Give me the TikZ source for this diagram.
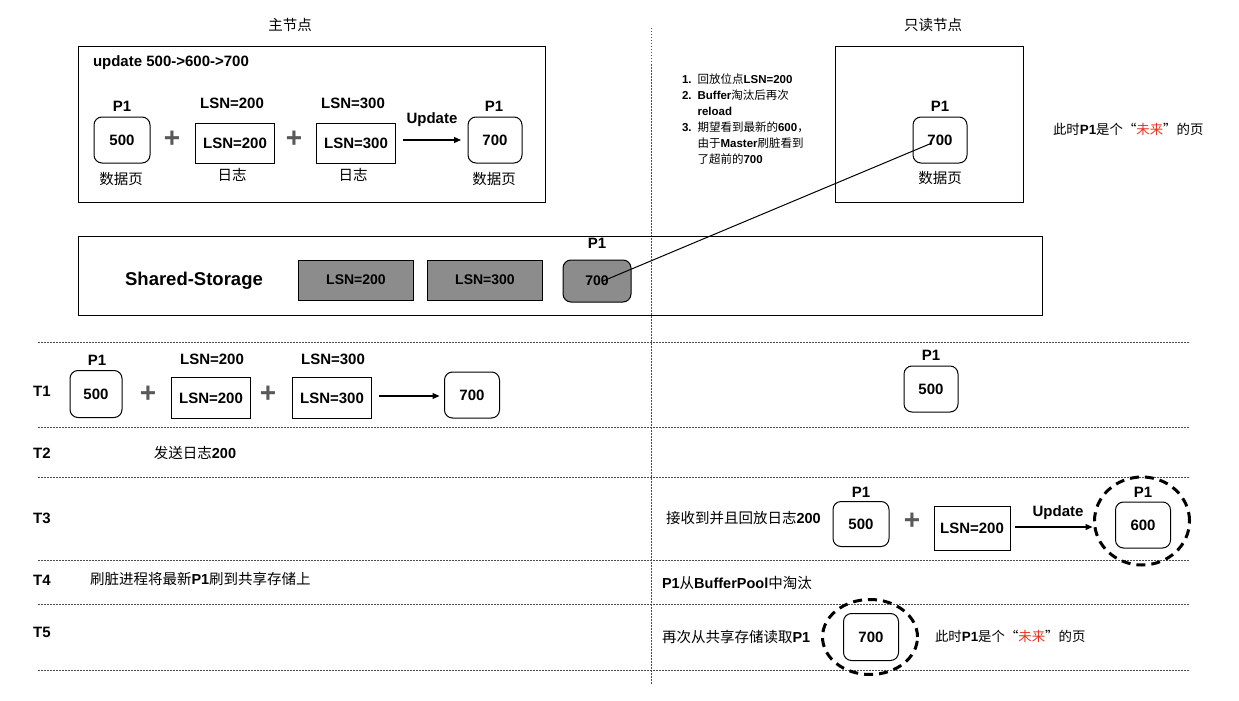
\documentclass[tikz,border=0pt]{standalone}
\usepackage{fontspec}
\setmainfont{Liberation Sans}
\newfontfamily\cnfont{Noto Sans CJK SC}
\newcommand\zh[1]{{\mdseries\cnfont #1}}
\usetikzlibrary{arrows.meta,calc,shapes.geometric}
\definecolor{futred}{HTML}{E8321E}
\definecolor{storegray}{HTML}{8C8C8C}
\begin{document}
\begin{tikzpicture}[x=1pt,y=-1pt,
  every node/.style={inner sep=0pt,outer sep=0pt,font=\fontsize{15}{18}\selectfont\bfseries},
  page/.style={draw,line width=1pt,rounded corners=8pt,minimum width=54pt,minimum height=46pt},
  logbox/.style={draw,line width=1pt,minimum width=79pt,minimum height=40pt},
  gbox/.style={draw,line width=1pt,fill=storegray,minimum width=115pt,minimum height=40pt,font=\fontsize{14}{16}\selectfont\bfseries},
  frame/.style={draw,line width=1pt},
  plus/.style={font=\fontsize{28}{28}\selectfont\bfseries,text=black!65},
  arr/.style={line width=1.2pt,-{Triangle[length=7pt,width=6pt]}},
  sep/.style={line width=1pt,black!70,dash pattern=on 1.5pt off 1.5pt},
  ring/.style={draw,line width=3pt,dash pattern=on 9pt off 6pt},
  cnt/.style={font=\fontsize{14.5}{17}\selectfont\bfseries},
  futtxt/.style={font=\fontsize{13.4}{16}\selectfont\bfseries,anchor=west},
  smalllist/.style={font=\fontsize{11.5}{16}\selectfont\bfseries,align=left,anchor=north west}
]
\useasboundingbox (0,0) rectangle (1239,701);

% column separator and titles
\draw[sep] (651,28) -- (651,685);
\node[cnt] (tmaster) at (290,25) {\zh{主节点}};
\node[cnt] (treplica) at (933,25) {\zh{只读节点}};

% ===== master top box =====
\node[frame,minimum width=467pt,minimum height=155pt] (mbox) at (311.5,124.5) {};
\node[anchor=west] (upd) at (93,63) {update 500->600->700};
\node[page,minimum width=56pt] (m500) at (122,140) {500};
\node (m500p) at (122,106) {P1};
\node[cnt] (m500c) at (121,179) {\zh{数据页}};
\node[plus] (mplus1) at (172,139) {+};
\node[logbox] (m200) at (235,143) {LSN=200};
\node (m200l) at (232,103) {LSN=200};
\node[cnt] (m200c) at (232,175) {\zh{日志}};
\node[plus] (mplus2) at (294,139) {+};
\node[logbox] (m300) at (356,143) {LSN=300};
\node (m300l) at (353,103) {LSN=300};
\node[cnt] (m300c) at (353,175) {\zh{日志}};
\node[page] (m700) at (495,140) {700};
\node (m700p) at (494,106) {P1};
\node[cnt] (m700c) at (494,179) {\zh{数据页}};
\draw[arr,shorten <=7pt,shorten >=7pt] (m300.east |- 0,140) coordinate (ma) -- (m700.west |- 0,140) coordinate (mb);
\node (mupd) at (432,120) {Update};

% ===== replica top box =====
\node[frame,minimum width=188pt,minimum height=155pt] (rbox) at (929,124.5) {};
\node[page] (r700) at (940,140) {700};
\node (r700p) at (940,106) {P1};
\node[cnt] (r700c) at (940,178) {\zh{数据页}};
\node[smalllist] (rlist) at (682,72) {%
  \begin{tabular}{@{}l@{\hspace{6pt}}l@{}}
  1. & \zh{回放位点}LSN=200\\
  2. & Buffer\zh{淘汰后再次}\\
     & reload\\
  3. & \zh{期望看到最新的}600\zh{，}\\
     & \zh{由于}Master\zh{刷脏看到}\\
     & \zh{了超前的}700
  \end{tabular}};
\node[futtxt] (rfut) at (1053,129) {\zh{此时}P1\zh{是个“}\textcolor{futred}{\zh{未来}}\zh{”的页}};

% ===== shared storage =====
\node[frame,minimum width=964pt,minimum height=79pt] (store) at (560,275.5) {};
\node[font=\fontsize{18.5}{20}\selectfont\bfseries] (stlbl) at (194,281) {Shared-Storage};
\node[gbox] (s200) at (356,280) {LSN=200};
\node[gbox] (s300) at (485,280) {LSN=300};
\node[gbox,rounded corners=8pt,minimum width=68pt,minimum height=42pt] (s700) at (597,281) {700};
\node (s700p) at (597,243) {P1};
\draw[line width=1pt] ($(s700.center)+(6,0)$) -- ($(r700.center)+(-8,3)$);

% ===== timeline separators =====
\foreach \yy in {342,427,477,560,604,670}
  \draw[sep] (38,\yy) -- (1190,\yy);

% T labels
\node (t1) at (42,391) {T1};
\node (t2) at (42,453) {T2};
\node (t3) at (42,518) {T3};
\node (t4) at (42,580) {T4};
\node (t5) at (42,632) {T5};

% T1 master
\node[page,minimum width=52pt,minimum height=47pt] (a500) at (96,394) {500};
\node (a500p) at (97,360) {P1};
\node[plus] (aplus1) at (148,394) {+};
\node[logbox,minimum height=41pt] (a200) at (211,398) {LSN=200};
\node (a200l) at (212,359) {LSN=200};
\node[plus] (aplus2) at (268,394) {+};
\node[logbox,minimum height=41pt] (a300) at (332,398) {LSN=300};
\node (a300l) at (333,359) {LSN=300};
\node[page,minimum width=55pt] (a700) at (472,395) {700};
\draw[arr,shorten <=7pt,shorten >=5pt] (a300.east |- 0,396) -- (a700.west |- 0,396);

% T1 replica
\node[page] (b500) at (931,389) {500};
\node (b500p) at (931,355) {P1};

% T2
\node[cnt] (t2txt) at (195,453) {\zh{发送日志}200};

% T3 replica
\node[cnt,anchor=west] (t3txt) at (666,518) {\zh{接收到并且回放日志}200};
\node[page,minimum width=56pt,minimum height=45pt] (c500) at (861,524) {500};
\node (c500p) at (861,492) {P1};
\node[plus] (cplus) at (912,521) {+};
\node[logbox,minimum width=76pt,minimum height=44pt] (c200) at (972,528) {LSN=200};
\node[ellipse,ring,minimum width=95pt,minimum height=88pt] (cring) at (1142,521) {};
\node[page,minimum width=55pt,minimum height=46pt] (c600) at (1143,525) {600};
\node (c600p) at (1143,492) {P1};
\draw[arr,shorten <=5pt,shorten >=2pt] (c200.east |- 0,527) -- (cring.west |- 0,527);
\node (cupd) at (1058,513) {Update};

% T4
\node[cnt,anchor=west] (t4m) at (90,579) {\zh{刷脏进程将最新}P1\zh{刷到共享存储上}};
\node[cnt,anchor=west] (t4r) at (662,583) {P1\zh{从}BufferPool\zh{中淘汰}};

% T5
\node[cnt,anchor=west] (t5r) at (662,637) {\zh{再次从共享存储读取}P1};
\node[ellipse,ring,minimum width=95pt,minimum height=75pt] (dring) at (870,637) {};
\node[page,minimum width=55pt,minimum height=47pt] (d700) at (871,637) {700};
\node[futtxt] (t5fut) at (935,636) {\zh{此时}P1\zh{是个“}\textcolor{futred}{\zh{未来}}\zh{”的页}};
\end{tikzpicture}
\end{document}
